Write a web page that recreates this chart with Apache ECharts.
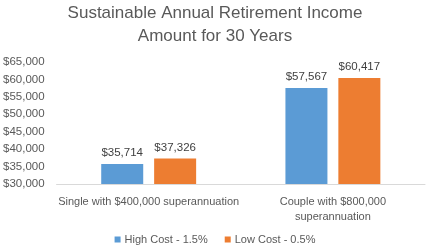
<!DOCTYPE html>
<html><head><meta charset="utf-8">
<script src="https://cdn.jsdelivr.net/npm/echarts@6/dist/echarts.min.js"></script>
<style>html,body{margin:0;padding:0;background:#fff}#c{width:430px;height:250px}</style>
</head><body><div id="c"></div>
<script>
var categories = ['Single with $400,000 superannuation', 'Couple with $800,000\nsuperannuation'];
var seriesNames = ['High Cost - 1.5%', 'Low Cost - 0.5%'];
var highCost = [35714, 57567];
var lowCost = [37326, 60417];
var yMin = 30000, yMax = 65000, yStep = 5000;

var FONT = 'Liberation Sans';
function money(v){ return '$' + Number(v).toLocaleString('en-US'); }
var chart = echarts.init(document.getElementById('c'), null, {renderer:'canvas'});
chart.setOption({
  animation: false,
  textStyle: {fontFamily: FONT},
  title: {
    text: 'Sustainable Annual Retirement Income\nAmount for 30 Years',
    left: 'center', top: -3,
    textStyle: {fontFamily: FONT, fontSize: 17, fontWeight: 'normal', color: '#595959', lineHeight: 23}
  },
  legend: {
    bottom: 0, left: 'center', itemWidth: 6, itemHeight: 6, itemGap: 17,
    icon: 'rect',
    textStyle: {fontFamily: FONT, fontSize: 11, color: '#595959', padding: [0,0,0,-1]},
    data: seriesNames
  },
  grid: {left: 56, right: 5, top: 62, bottom: 66},
  xAxis: {
    type: 'category', data: categories,
    axisLine: {lineStyle: {color: '#d9d9d9'}},
    axisTick: {show: false},
    axisLabel: {fontFamily: FONT, fontSize: 11, color: '#595959', margin: 10, lineHeight: 15, interval: 0}
  },
  yAxis: {
    type: 'value', min: yMin, max: yMax, interval: yStep,
    axisLine: {show: false}, axisTick: {show: false}, splitLine: {show: false},
    axisLabel: {fontFamily: FONT, fontSize: 11.5, color: '#595959', margin: 12, formatter: money}
  },
  series: [
    {name: seriesNames[0], type: 'bar', data: highCost, barWidth: 42, barGap: '26%',
     itemStyle: {color: '#5B9BD5'},
     label: {show: true, position: 'top', distance: 5, fontFamily: FONT, fontSize: 11.5, color: '#404040', formatter: function(p){return money(p.value);}}},
    {name: seriesNames[1], type: 'bar', data: lowCost, barWidth: 42,
     itemStyle: {color: '#ED7D31'},
     label: {show: true, position: 'top', distance: 5, fontFamily: FONT, fontSize: 11.5, color: '#404040', formatter: function(p){return money(p.value);}}}
  ]
});
</script></body></html>
